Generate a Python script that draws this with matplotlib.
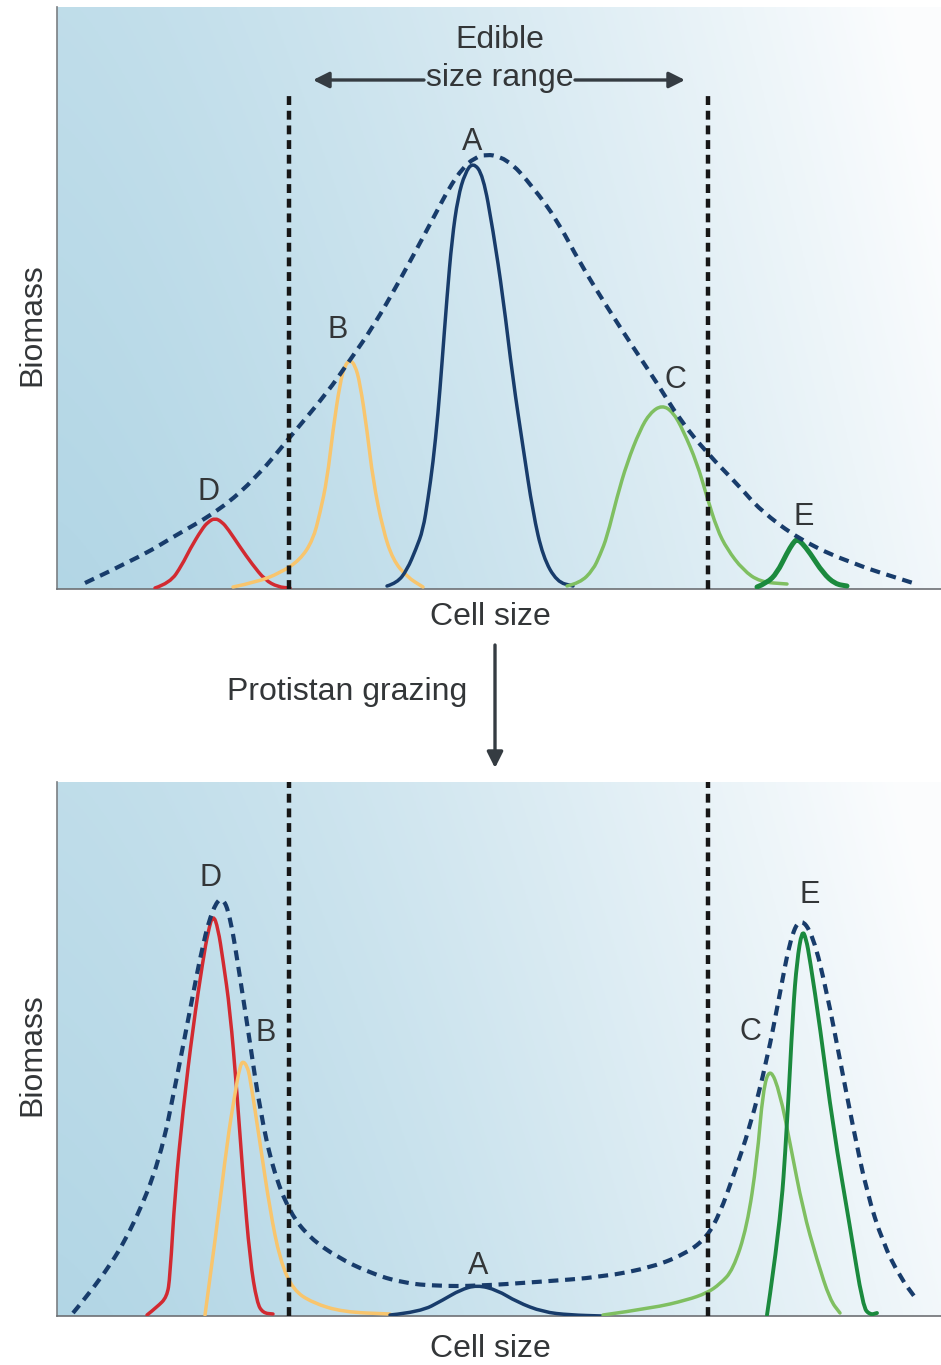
import numpy as np
import matplotlib.pyplot as plt
from matplotlib.path import Path
from matplotlib.patches import PathPatch

plt.rcParams['font.family'] = ['Liberation Sans', 'DejaVu Sans']

# x = cell size (px along the axis), h = biomass (px above the baseline)
# ---- before grazing ----
d1_x = [155, 170, 182, 190, 202, 208, 215, 222, 228, 240, 252, 265, 278, 290]
d1_h = [1, 6, 24, 40, 60, 67, 71, 67, 60, 42, 25, 9, 2, 1]
b1_x = [233, 257, 280, 300, 313, 320, 327, 333, 340, 345, 350, 355, 360, 367, 373, 383, 393, 407, 423]
b1_h = [2, 7, 16, 29, 49, 76, 109, 159, 206, 224, 229, 224, 206, 159, 109, 59, 29, 12, 2]
a1_x = [387, 397, 407, 416, 423, 428, 433, 438, 442, 447, 452, 458, 465, 473,
        483, 493, 503, 513, 523, 533, 543, 557, 573]
a1_h = [3, 6, 19, 40, 59, 90, 126, 175, 226, 292, 350, 392, 416, 427,
        414, 359, 292, 209, 142, 76, 32, 7, 3]
c1_x = [567, 580, 593, 600, 607, 617, 627, 640, 650, 662, 673, 683, 697, 707, 717, 727, 743, 760, 787]
c1_h = [3, 6, 19, 34, 52, 92, 126, 159, 176, 184, 177, 159, 126, 92, 60, 40, 19, 7, 5]
e1_x = [757, 767, 777, 787, 793, 797, 802, 810, 823, 835, 847]
e1_h = [2, 6, 16, 36, 46, 50, 46, 36, 16, 5, 3]
env1_x = [85, 140, 173, 220, 257, 290, 327, 350, 373, 400, 427, 457, 480, 507, 533, 557,
          580, 607, 633, 657, 680, 707, 740, 760, 800, 850, 913]
env1_h = [6, 32, 52, 79, 112, 152, 196, 229, 262, 309, 359, 416, 436, 431, 402, 369,
          326, 282, 242, 206, 169, 136, 102, 79, 49, 26, 6]

# ---- after grazing ----
d2_x = [147, 157, 167, 170, 175, 183, 193, 203, 208, 213, 218, 223, 230, 237, 243, 250, 257, 263, 273]
d2_h = [1, 9, 19, 39, 123, 206, 289, 356, 384, 402, 388, 356, 306, 223, 139, 56, 13, 3, 2]
b2_x = [205, 217, 227, 235, 240, 243, 247, 250, 260, 270, 280, 293, 313, 343, 390]
b2_h = [1, 89, 173, 223, 250, 255, 250, 239, 173, 106, 56, 26, 13, 4, 2]
a2_x = [390, 420, 443, 460, 477, 497, 517, 543, 570, 603]
a2_h = [1, 4, 16, 26, 31, 26, 14, 4, 1, 0]
c2_x = [603, 653, 687, 707, 720, 733, 747, 757, 763, 770, 780, 790, 803, 817, 830, 840]
c2_h = [1, 8, 16, 23, 32, 46, 89, 156, 226, 249, 223, 173, 106, 56, 16, 3]
e2_x = [767, 780, 787, 793, 797, 802, 806, 810, 820, 833, 850, 863, 870, 877]
e2_h = [1, 89, 189, 306, 355, 386, 378, 356, 289, 189, 89, 9, 1, 3]
env2_x = [73, 103, 133, 160, 177, 190, 203, 213, 222, 230, 240, 250, 260, 273, 290, 310, 337,
          370, 403, 437, 477, 537, 603, 653, 687, 707, 720, 733, 750, 767, 780, 790, 800,
          813, 827, 840, 853, 867, 883, 900, 917]
env2_h = [3, 39, 89, 156, 239, 306, 373, 408, 420, 401, 339, 273, 206, 146, 103, 78, 59,
          43, 33, 30, 30, 34, 39, 49, 63, 79, 103, 139, 189, 256, 323, 376, 399,
          381, 323, 256, 189, 123, 73, 39, 16]

edible = [289, 708]
labels1 = {'A': (472, 447), 'B': (338, 259), 'C': (675, 209), 'D': (208, 97), 'E': (804, 72)}
labels2 = {'D': (211, 438), 'B': (266, 283), 'A': (478, 50), 'C': (750, 284), 'E': (810, 421)}

navy = '#183c6b'
red = '#d22a31'
orange = '#f8c56d'
lgreen = '#7fbf61'
dgreen = '#1b8a3e'
txt = '#333638'
fs = 23

fig = plt.figure(figsize=(9.41, 13.65), dpi=100)
ax1 = fig.add_axes([57 / 941, 1 - 589 / 1365, 884 / 941, 582 / 1365])
ax2 = fig.add_axes([57 / 941, 1 - 1316 / 1365, 884 / 941, 534 / 1365])


def background(ax, top):
    X, Y = np.meshgrid(np.linspace(0, 1, 300), np.linspace(0, 1, 200))
    s = np.clip(0.88 * X ** 1.35 + 0.18 * Y, 0, 1)[..., None]
    dark = np.array([0.70, 0.84, 0.90])
    light = np.array([0.985, 0.99, 0.995])
    img = dark * (1 - s) + light * s
    ax.imshow(img, extent=[57, 941, 0, top], origin='lower', aspect='auto', zorder=0)
    ax.set_xlim(57, 941)
    ax.set_ylim(0, top)
    ax.set_xticks([])
    ax.set_yticks([])
    for sp in ['top', 'right']:
        ax.spines[sp].set_visible(False)
    ax.spines['left'].set_color('#7a7f83')
    ax.spines['bottom'].set_color('#6d7074')
    ax.spines['left'].set_linewidth(1.2)
    ax.spines['bottom'].set_linewidth(1.2)


def curve(ax, xs, hs, color, lw, z=3, dashes=None):
    # smooth drawing through the read points (quadratic bezier between midpoints)
    pts = list(zip(xs, hs))
    verts = [pts[0]]
    codes = [Path.MOVETO]
    for i in range(1, len(pts) - 1):
        mx = (pts[i][0] + pts[i + 1][0]) / 2
        my = (pts[i][1] + pts[i + 1][1]) / 2
        verts += [pts[i], (mx, my)]
        codes += [Path.CURVE3, Path.CURVE3]
    verts.append(pts[-1])
    codes.append(Path.LINETO)
    p = PathPatch(Path(verts, codes), facecolor='none', edgecolor=color, lw=lw, zorder=z,
                  capstyle='butt' if dashes else 'round', joinstyle='round')
    if dashes:
        p.set_linestyle((0, dashes))
    ax.add_patch(p)


background(ax1, 582)
background(ax2, 534)

lw = 2.5
# top panel
curve(ax1, d1_x, d1_h, red, lw)
curve(ax1, b1_x, b1_h, orange, lw)
curve(ax1, a1_x, a1_h, navy, lw)
curve(ax1, c1_x, c1_h, lgreen, lw)
curve(ax1, e1_x, e1_h, dgreen, 3.6)
curve(ax1, env1_x, env1_h, navy, 3.0, z=4, dashes=(2.4, 1.6))
for x in edible:
    ax1.plot([x, x], [0, 496], color='#161616', lw=3.2, dashes=(2.0, 1.3), zorder=5)
for k, (x, y) in labels1.items():
    ax1.text(x, y, k, fontsize=22, color=txt, ha='center', va='center', zorder=6)

ax1.text(500, 549, 'Edible', fontsize=fs, color=txt, ha='center', va='center')
ax1.text(500, 511, 'size range', fontsize=fs, color=txt, ha='center', va='center')
arr = dict(arrowstyle='-|>', color='#353c42', lw=2.4, mutation_scale=24, shrinkA=0, shrinkB=0)
ax1.annotate('', xy=(313, 509), xytext=(424, 509), arrowprops=arr)
ax1.annotate('', xy=(685, 509), xytext=(575, 509), arrowprops=arr)

# bottom panel
curve(ax2, d2_x, d2_h, red, lw)
curve(ax2, b2_x, b2_h, orange, lw)
curve(ax2, a2_x, a2_h, navy, lw)
curve(ax2, c2_x, c2_h, lgreen, lw)
curve(ax2, e2_x, e2_h, dgreen, 2.8)
curve(ax2, env2_x, env2_h, navy, 3.0, z=4, dashes=(2.4, 1.6))
for x in edible:
    ax2.plot([x, x], [0, 534], color='#161616', lw=3.2, dashes=(2.0, 1.3), zorder=5)
for k, (x, y) in labels2.items():
    ax2.text(x, y, k, fontsize=22, color=txt, ha='center', va='center', zorder=6)

# outside texts
fig.text(32 / 941, 1 - 325 / 1365, 'Biomass', rotation=90, fontsize=fs, color=txt, ha='center', va='center')
fig.text(32 / 941, 1 - 1055 / 1365, 'Biomass', rotation=90, fontsize=fs, color=txt, ha='center', va='center')
fig.text(490 / 941, 1 - 617 / 1365, 'Cell size', fontsize=fs, color=txt, ha='center', va='center')
fig.text(490 / 941, 1 - 1349 / 1365, 'Cell size', fontsize=fs, color=txt, ha='center', va='center')
fig.text(347 / 941, 1 - 692 / 1365, 'Protistan grazing', fontsize=fs, color=txt, ha='center', va='center')
ax1.annotate('', xy=(495 / 941, 1 - 768 / 1365), xytext=(495 / 941, 1 - 645 / 1365),
             xycoords='figure fraction', textcoords='figure fraction',
             arrowprops=dict(arrowstyle='-|>', color='#353c42', lw=2.4, mutation_scale=24,
                             shrinkA=0, shrinkB=0))

fig.savefig('out.png', dpi=100)
